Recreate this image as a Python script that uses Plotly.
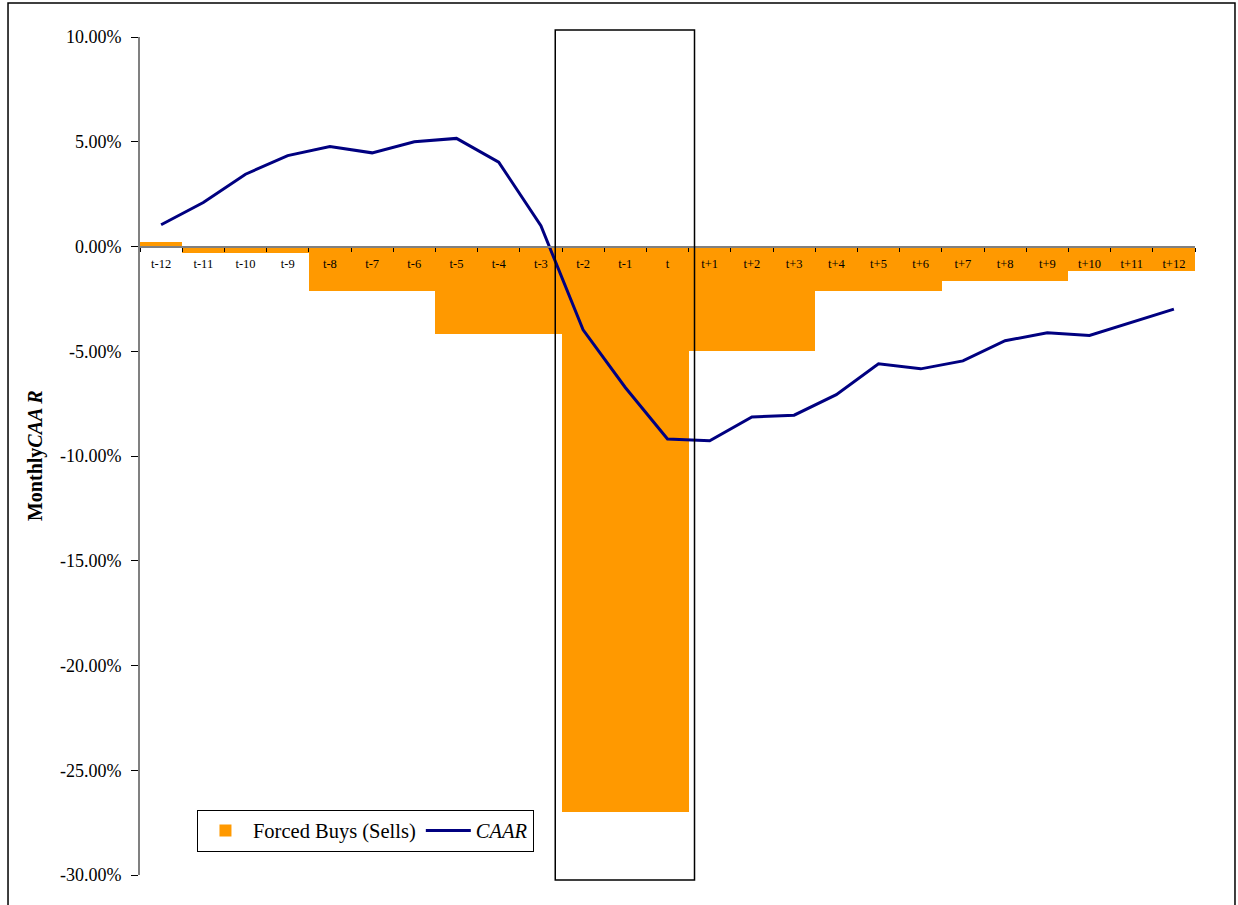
import plotly.graph_objects as go

categories = ["t-12", "t-11", "t-10", "t-9", "t-8", "t-7", "t-6", "t-5", "t-4", "t-3",
              "t-2", "t-1", "t", "t+1", "t+2", "t+3", "t+4", "t+5", "t+6",
              "t+7", "t+8", "t+9", "t+10", "t+11", "t+12"]

forced_buys_sells = [0.22, -0.33, -0.33, -0.33, -2.1, -2.1, -2.1, -4.18, -4.18, -4.18,
                     -26.97, -26.97, -26.97, -4.98, -4.98, -4.98, -2.1, -2.1, -2.1,
                     -1.67, -1.67, -1.67, -1.15, -1.15, -1.15]

caar = [1.04, 2.10, 3.45, 4.34, 4.77, 4.47, 5.00, 5.16, 4.03, 0.99,
        -3.98, -6.73, -9.19, -9.27, -8.14, -8.05, -7.07, -5.60, -5.84,
        -5.46, -4.50, -4.12, -4.25, -3.63, -2.99]

y_tickvals = [10, 5, 0, -5, -10, -15, -20, -25, -30]
y_ticktext = ["%.2f%%" % v for v in y_tickvals]

FONT = "Liberation Serif"
N = len(categories)

fig = go.Figure()
fig.add_trace(go.Bar(
    x=categories, y=forced_buys_sells, name="Forced Buys (Sells)",
    marker=dict(color="#FF9900", line=dict(width=0)),
))
fig.add_trace(go.Scatter(
    x=categories, y=caar, name="<i>CAAR</i>", mode="lines",
    line=dict(color="#000080", width=3),
))

# highlight box around t-2 .. t (category indices 10..12), slightly wider than the bars
box_x0 = (9.34 + 0.5) / N
box_x1 = (12.64 + 0.5) / N

fig.update_layout(
    width=1238, height=905,
    margin=dict(l=140, r=43, t=37, b=30),
    paper_bgcolor="white", plot_bgcolor="white",
    bargap=0,
    font=dict(family=FONT, color="black"),
    showlegend=True,
    legend=dict(
        orientation="h", x=0.054, y=0.078, xanchor="left", yanchor="top",
        bordercolor="black", borderwidth=1, bgcolor="white",
        font=dict(family=FONT, size=20.5, color="black"),
        itemwidth=45,
    ),
    xaxis=dict(
        type="category", anchor="free", position=0.75,
        showline=True, linecolor="#808080", linewidth=2,
        ticks="outside", ticklen=4, tickcolor="black", tickson="boundaries",
        tickfont=dict(family=FONT, size=12.5, color="black"),
        ticklabelstandoff=5,
        showgrid=False, zeroline=False, range=[-0.5, N - 0.5],
    ),
    yaxis=dict(
        range=[-30, 10], tickvals=y_tickvals, ticktext=y_ticktext,
        showline=True, linecolor="#808080", linewidth=2,
        ticks="outside", ticklen=7, tickcolor="black",
        tickfont=dict(family=FONT, size=18, color="black"),
        ticklabelstandoff=6,
        showgrid=False, zeroline=False,
    ),
    shapes=[
        dict(type="rect", xref="paper", yref="paper", x0=box_x0, x1=box_x1, y0=-0.006, y1=1.0084,
             line=dict(color="black", width=1.5), fillcolor="rgba(0,0,0,0)", layer="above"),
        dict(type="rect", xref="paper", yref="paper", x0=-0.1251, x1=1.0379, y0=-0.05, y1=1.0406,
             line=dict(color="black", width=1.5), fillcolor="rgba(0,0,0,0)", layer="above"),
    ],
    annotations=[
        dict(text="<b>Monthly<i>CAA R</i></b>", textangle=-90, xref="paper", yref="paper",
             x=-0.0995, y=0.5, xanchor="center", yanchor="middle", showarrow=False,
             font=dict(family=FONT, size=20, color="black")),
    ],
)

fig.write_html("out.html")
